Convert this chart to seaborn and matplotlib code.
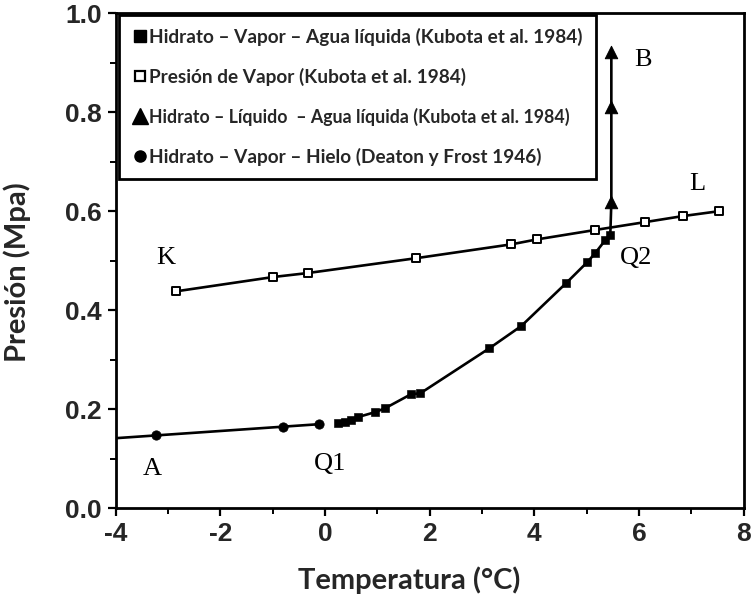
import numpy as np
import pandas as pd
import seaborn as sns
import matplotlib.pyplot as plt
from matplotlib.lines import Line2D
from matplotlib.ticker import MultipleLocator

# Hidrato - Vapor - Agua líquida (Kubota et al. 1984)
hvw_T = [0.25, 0.38, 0.50, 0.63, 0.96, 1.15, 1.64, 1.82, 3.14, 3.75, 4.61, 5.01, 5.16, 5.35, 5.45]
hvw_P = [0.172, 0.174, 0.178, 0.184, 0.194, 0.202, 0.230, 0.232, 0.323, 0.368, 0.455, 0.497, 0.515, 0.541, 0.552]

# Presión de Vapor (Kubota et al. 1984)
vp_T = [-2.85, -0.99, -0.33, 1.74, 3.56, 4.05, 5.16, 6.12, 6.83, 7.53]
vp_P = [0.438, 0.467, 0.475, 0.505, 0.533, 0.543, 0.562, 0.578, 0.590, 0.600]

# Hidrato - Líquido - Agua líquida (Kubota et al. 1984)
hlw_T = [5.47, 5.47, 5.47]
hlw_P = [0.618, 0.810, 0.921]

# Hidrato - Vapor - Hielo (Deaton y Frost 1946)
ice_T = [-3.23, -0.80, -0.11]
ice_P = [0.147, 0.164, 0.170]

# Point labels
lab_text = ["K", "L", "B", "Q2", "Q1", "A"]
lab_T = [-3.05, 7.12, 6.08, 5.95, 0.1, -3.3]
lab_P = [0.505, 0.655, 0.905, 0.505, 0.09, 0.08]

legend_labels = [
    "Hidrato – Vapor – Agua líquida (Kubota et al. 1984)",
    "Presión de Vapor (Kubota et al. 1984)",
    "Hidrato – Líquido  – Agua líquida (Kubota et al. 1984)",
    "Hidrato – Vapor – Hielo (Deaton y Frost 1946)",
]

x_ticks = [-4, -2, 0, 2, 4, 6, 8]
y_ticks = [0.0, 0.2, 0.4, 0.6, 0.8, 1.0]

sns.set_theme(style="ticks")
plt.rcParams["font.family"] = ["Liberation Sans", "DejaVu Sans"]

fig = plt.figure(figsize=(7.52, 6.02), dpi=100)
ax = fig.add_axes([0.154, 0.156, 0.835, 0.822])

lw = 1.9
# Curves
sns.lineplot(x=vp_T, y=vp_P, color="black", lw=lw, sort=False, estimator=None, ax=ax)
sns.lineplot(x=hvw_T, y=hvw_P, color="black", lw=lw, sort=False, estimator=None, ax=ax)
# vertical line from Q2 up through triangles
sns.lineplot(x=[hvw_T[-1]] + hlw_T, y=[hvw_P[-1]] + hlw_P, color="black", lw=lw,
             sort=False, estimator=None, ax=ax)
# ice line (linear fit extended to axis edge)
coef = np.polyfit(ice_T, ice_P, 1)
ice_line_T = np.array([x_ticks[0], ice_T[-1]])
sns.lineplot(x=ice_line_T, y=np.polyval(coef, ice_line_T), color="black", lw=lw,
             sort=False, estimator=None, ax=ax)

# Markers
sns.scatterplot(x=hvw_T, y=hvw_P, marker="s", s=30, color="black", edgecolor="black", ax=ax, zorder=5)
sns.scatterplot(x=vp_T, y=vp_P, marker="s", s=34, facecolor="white", edgecolor="black",
                linewidth=1.4, ax=ax, zorder=5)
sns.scatterplot(x=hlw_T, y=hlw_P, marker="^", s=80, color="black", edgecolor="black", ax=ax, zorder=5)
sns.scatterplot(x=ice_T, y=ice_P, marker="o", s=45, color="black", edgecolor="black", ax=ax, zorder=5)

for t, x, y in zip(lab_text, lab_T, lab_P):
    ax.text(x, y, t, fontsize=19, family=["Liberation Serif"], ha="center", va="center", color="black")

ax.set_xlim(x_ticks[0], x_ticks[-1])
ax.set_ylim(y_ticks[0], y_ticks[-1])
ax.set_xticks(x_ticks)
ax.set_yticks(y_ticks)
ax.set_xticklabels([str(v) for v in x_ticks])
ax.set_yticklabels([f"{v:.1f}" for v in y_ticks])
ax.xaxis.set_minor_locator(MultipleLocator(1))
ax.yaxis.set_minor_locator(MultipleLocator(0.1))
for lbl in ax.get_xticklabels() + ax.get_yticklabels():
    lbl.set_fontweight("bold")
    lbl.set_fontsize(19)
ax.tick_params(axis="both", which="major", direction="out", length=6, width=1.6, color="black", pad=4)
ax.tick_params(axis="both", which="minor", direction="out", length=4, width=1.4, color="black")

for sp in ax.spines.values():
    sp.set_visible(True)
    sp.set_linewidth(2)
    sp.set_color("black")

ax.set_xlabel("Temperatura (°C)", fontsize=21, fontweight="bold", family=["Lato", "DejaVu Sans"])
ax.set_ylabel("Presión (Mpa)", fontsize=21, fontweight="bold", family=["Lato", "DejaVu Sans"])
ax.xaxis.set_label_coords(0.468, -0.117)
ax.yaxis.set_label_coords(-0.135, 0.477)

handles = [
    Line2D([], [], marker="s", ls="none", color="black", markersize=8),
    Line2D([], [], marker="s", ls="none", markerfacecolor="white", markeredgecolor="black",
           markeredgewidth=1.6, markersize=7),
    Line2D([], [], marker="^", ls="none", color="black", markersize=12),
    Line2D([], [], marker="o", ls="none", color="black", markersize=8),
]
leg = ax.legend(handles, legend_labels, loc="upper left", bbox_to_anchor=(0.005, 0.997),
                frameon=True, fancybox=False, edgecolor="black", framealpha=1,
                prop={"family": ["Lato", "DejaVu Sans"], "weight": "bold", "size": 13.7},
                handlelength=0.8, handletextpad=0.1, labelspacing=1.15, borderpad=0.7,
                borderaxespad=0)
leg.get_frame().set_linewidth(2)
leg.get_texts()[2].set_fontsize(12.8)
leg.set_zorder(10)

fig.savefig("out.png", dpi=100)
